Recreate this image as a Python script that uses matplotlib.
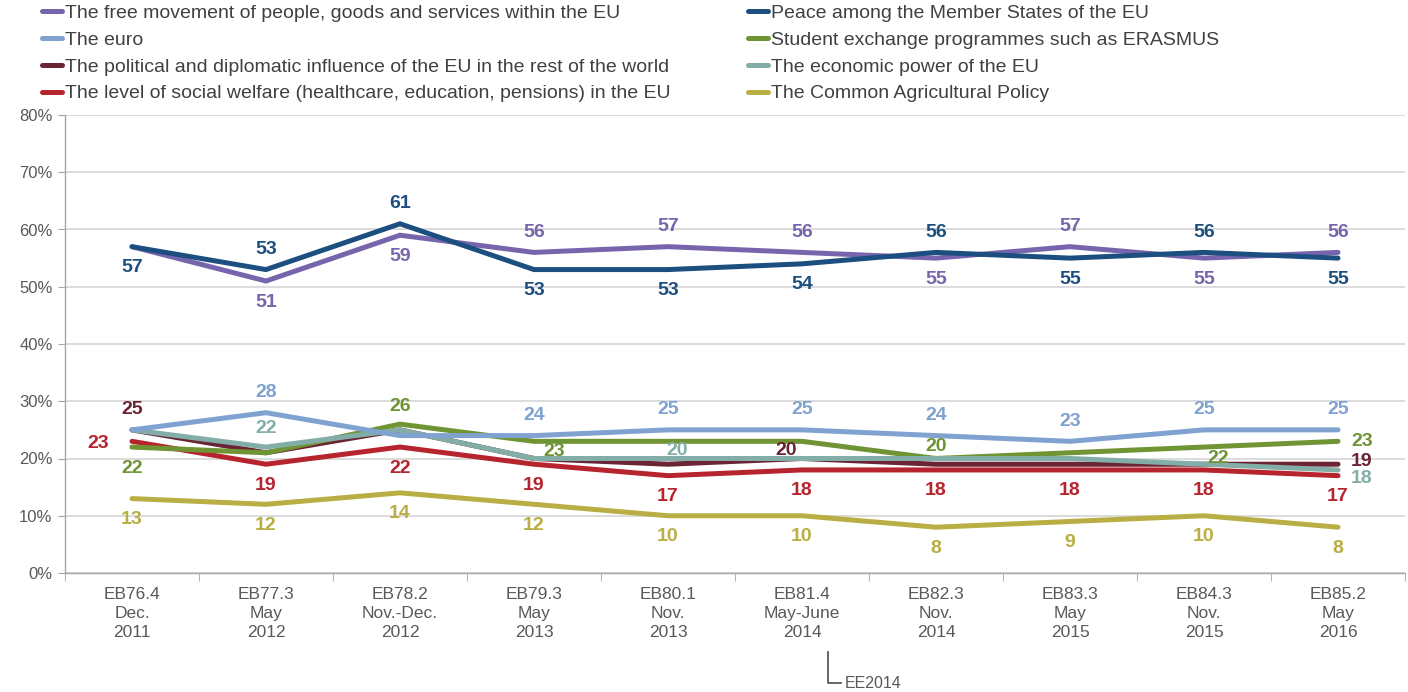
import numpy as np
import matplotlib
matplotlib.use("Agg")
import matplotlib.pyplot as plt
from matplotlib.lines import Line2D
from matplotlib.ticker import FuncFormatter, MultipleLocator
import matplotlib.transforms as mtransforms

plt.rcParams['font.family'] = ['Liberation Sans', 'DejaVu Sans']

# survey waves (x axis)
waves = ["EB76.4\nDec.\n2011", "EB77.3\nMay\n2012", "EB78.2\nNov.-Dec.\n2012",
         "EB79.3\nMay\n2013", "EB80.1\nNov.\n2013", "EB81.4\nMay-June\n2014",
         "EB82.3\nNov.\n2014", "EB83.3\nMay\n2015", "EB84.3\nNov.\n2015",
         "EB85.2\nMay\n2016"]

# series values (%)
free_movement = [57, 51, 59, 56, 57, 56, 55, 57, 55, 56]
peace = [57, 53, 61, 53, 53, 54, 56, 55, 56, 55]
euro = [25, 28, 24, 24, 25, 25, 24, 23, 25, 25]
student_exchange = [22, 21, 26, 23, 23, 23, 20, 21, 22, 23]
political_influence = [25, 21, 25, 20, 19, 20, 19, 19, 19, 19]
economic_power = [25, 22, 25, 20, 20, 20, 20, 20, 19, 18]
social_welfare = [23, 19, 22, 19, 17, 18, 18, 18, 18, 17]
cap = [13, 12, 14, 12, 10, 10, 8, 9, 10, 8]

names = {
    "free": "The free movement of people, goods and services within the EU",
    "euro": "The euro",
    "pol": "The political and diplomatic influence of the EU in the rest of the world",
    "soc": "The level of social welfare (healthcare, education, pensions) in the EU",
    "peace": "Peace among the Member States of the EU",
    "stud": "Student exchange programmes such as ERASMUS",
    "eco": "The economic power of the EU",
    "cap": "The Common Agricultural Policy",
}
values = {"free": free_movement, "euro": euro, "pol": political_influence,
          "soc": social_welfare, "peace": peace, "stud": student_exchange,
          "eco": economic_power, "cap": cap}
colors = {"free": "#7665AC", "euro": "#7FA2D0", "pol": "#6A2434",
          "soc": "#B6242E", "peace": "#1C4F80", "stud": "#6F9433",
          "eco": "#82AEA7", "cap": "#B9AE43"}

# label offsets in pixels (dx, dy up); None = no label
A, B = (0, 20), (0, -21)
label_pos = {
    "free": [None, B, B, A, A, A, B, A, B, A],
    "peace": [B, A, A, B, B, B, A, B, A, B],
    "euro": [None, A, None, A, A, A, A, A, A, A],
    "stud": [B, None, (0, 18), (20, -10), None, None, (0, 12), None, (14, -11), (24, 0)],
    "pol": [A, None, None, None, None, (-16, 8), None, None, None, (24, 3)],
    "eco": [None, (0, 19), None, None, (9, 8), None, None, None, None, (24, -9)],
    "soc": [(-34, -2), B, B, B, B, B, B, B, B, B],
    "cap": [B, B, B, B, B, B, B, B, B, B],
}

draw_order = ["cap", "soc", "pol", "stud", "eco", "euro", "free", "peace"]

fig = plt.figure(figsize=(14.08, 6.92), dpi=100)
ax = fig.add_axes([65 / 1408, 1 - 573 / 692, 1340 / 1408, 458 / 692])

x = np.arange(len(waves))
for z, key in enumerate(draw_order):
    y = np.array(values[key]) / 100
    ax.plot(x, y, color=colors[key], lw=3.6, solid_joinstyle="miter",
            solid_capstyle="round", zorder=3 + z)
    for xi, yi, v, pos in zip(x, y, values[key], label_pos[key]):
        if pos is None:
            continue
        ax.annotate(str(v), (xi, yi), xytext=(pos[0] * 0.72, pos[1] * 0.72),
                    textcoords="offset points", ha="center", va="center",
                    fontsize=14, fontweight="bold", color=colors[key],
                    zorder=20)

ax.set_xlim(-0.5, len(waves) - 0.5)
ax.set_ylim(0, 0.8)
ax.yaxis.set_major_locator(MultipleLocator(0.1))
ax.yaxis.set_major_formatter(FuncFormatter(lambda v, p: "%d%%" % round(v * 100)))
ax.set_xticks(x)
ax.set_xticklabels(waves, linespacing=1.32)
ax.set_xticks(np.arange(-0.5, len(waves)), minor=True)
ax.tick_params(axis="x", which="major", length=0, pad=10, labelsize=12.5, labelcolor="#595959")
ax.tick_params(axis="x", which="minor", length=6, direction="out", color="#A6A6A6")
ax.tick_params(axis="y", length=5, color="#A6A6A6", labelsize=12, labelcolor="#595959", pad=4)
ax.grid(axis="y", color="#D9D9D9", lw=1.3)
ax.set_axisbelow(True)
for s in ["top", "right"]:
    ax.spines[s].set_visible(False)
for s in ["left", "bottom"]:
    ax.spines[s].set_color("#A6A6A6")
    ax.spines[s].set_linewidth(1)

# EE2014 marker under EB81.4
trans = mtransforms.blended_transform_factory(ax.transData, ax.transAxes)
x_ee = 5 + 26 / 134
ax.plot([x_ee, x_ee, x_ee + 13 / 134], [-79 / 458, -110 / 458, -110 / 458],
        color="#595959", lw=1.3, transform=trans, clip_on=False)
ax.text(x_ee + 17 / 134, -111 / 458, "EE2014", transform=trans, ha="left",
        va="center", fontsize=11.5, color="#595959")

# legend in two columns
def handles(keys):
    return [Line2D([], [], color=colors[k], lw=3.6, solid_capstyle="round") for k in keys]

col1 = ["free", "euro", "pol", "soc"]
col2 = ["peace", "stud", "eco", "cap"]
for keys, x0 in [(col1, 42), (col2, 748)]:
    fig.legend(handles(keys), [names[k] for k in keys], loc="upper left",
               bbox_to_anchor=(x0 / 1408, 1 - 4 / 692), frameon=False,
               fontsize=14, handlelength=1.05, handletextpad=0.15,
               labelspacing=0.48, borderpad=0, borderaxespad=0,
               labelcolor="#404040")

fig.savefig("out.png", dpi=100)
